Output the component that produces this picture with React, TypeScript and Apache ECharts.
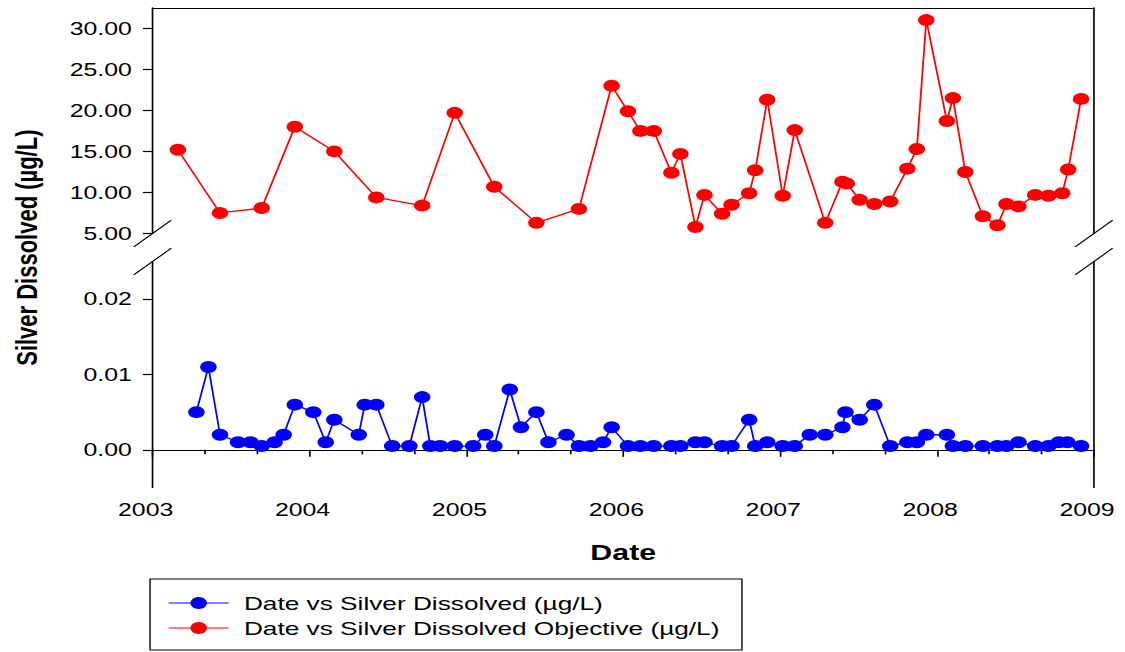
import React, { useEffect, useRef } from "react";
import * as echarts from "echarts";

// The reference picture is horizontally stretched; the chart is drawn at a
// narrower width and stretched back with a CSS transform.
const CHART_W = 815;
const CHART_H = 652;
const SCALE_X = 1125 / CHART_W;

const FONT = "'Liberation Sans', Arial, Helvetica, sans-serif";

const objectiveName = "Date vs Silver Dissolved Objective (µg/L)";
const dissolvedName = "Date vs Silver Dissolved (µg/L)";

const objectiveDates = [
  "2003-03-01", "2003-06-07", "2003-09-12", "2003-11-28", "2004-02-28", "2004-06-05",
  "2004-09-20", "2004-12-05", "2005-03-07", "2005-06-13", "2005-09-20", "2005-12-05",
  "2006-01-12", "2006-02-10", "2006-03-13", "2006-04-23", "2006-05-14", "2006-06-18",
  "2006-07-09", "2006-08-19", "2006-09-10", "2006-10-21", "2006-11-04", "2006-12-02",
  "2007-01-07", "2007-02-04", "2007-04-16", "2007-05-26", "2007-06-05", "2007-07-05",
  "2007-08-08", "2007-09-14", "2007-10-24", "2007-11-15", "2007-12-07", "2008-01-24",
  "2008-02-07", "2008-03-07", "2008-04-17", "2008-05-21", "2008-06-11", "2008-07-09",
  "2008-08-17", "2008-09-17", "2008-10-19", "2008-11-02", "2008-12-02",
];
const objectiveValues = [
  15.2, 7.5, 8.1, 18.0, 15.0, 9.4,
  8.4, 19.7, 10.7, 6.3, 8.0, 23.0,
  19.9, 17.5, 17.5, 12.4, 14.7, 5.8,
  9.7, 7.4, 8.5, 9.9, 12.7, 21.3,
  9.6, 17.6, 6.3, 11.3, 11.1, 9.1,
  8.6, 8.9, 12.9, 15.3, 31.0, 18.7,
  21.5, 12.5, 7.1, 6.0, 8.6, 8.3,
  9.7, 9.6, 9.9, 12.8, 21.4,
];

const dissolvedDates = [
  "2003-04-13", "2003-05-11", "2003-06-07", "2003-07-19", "2003-08-17", "2003-09-12",
  "2003-10-12", "2003-11-02", "2003-11-28", "2004-01-10", "2004-02-08", "2004-02-28",
  "2004-04-25", "2004-05-09", "2004-06-05", "2004-07-12", "2004-08-21", "2004-09-20",
  "2004-10-09", "2004-11-01", "2004-12-05", "2005-01-17", "2005-02-14", "2005-03-07",
  "2005-04-12", "2005-05-08", "2005-06-13", "2005-07-11", "2005-08-22", "2005-09-20",
  "2005-10-17", "2005-11-15", "2005-12-05", "2006-01-12", "2006-02-10", "2006-03-13",
  "2006-04-23", "2006-05-14", "2006-06-18", "2006-07-09", "2006-08-19", "2006-09-10",
  "2006-10-21", "2006-11-04", "2006-12-02", "2007-01-07", "2007-02-04", "2007-03-11",
  "2007-04-16", "2007-05-26", "2007-06-02", "2007-07-05", "2007-08-08", "2007-09-14",
  "2007-10-24", "2007-11-15", "2007-12-07", "2008-01-24", "2008-02-07", "2008-03-07",
  "2008-04-17", "2008-05-21", "2008-06-11", "2008-07-09", "2008-08-17", "2008-09-17",
  "2008-10-11", "2008-10-31", "2008-12-02",
];
const dissolvedValues = [
  0.005, 0.011, 0.002, 0.001, 0.001, 0.0005,
  0.001, 0.002, 0.006, 0.005, 0.001, 0.004,
  0.002, 0.006, 0.006, 0.0005, 0.0005, 0.007,
  0.0005, 0.0005, 0.0005, 0.0005, 0.002, 0.0005,
  0.008, 0.003, 0.005, 0.001, 0.002, 0.0005,
  0.0005, 0.001, 0.003, 0.0005, 0.0005, 0.0005,
  0.0005, 0.0005, 0.001, 0.001, 0.0005, 0.0005,
  0.004, 0.0005, 0.001, 0.0005, 0.0005, 0.002,
  0.002, 0.003, 0.005, 0.004, 0.006, 0.0005,
  0.001, 0.001, 0.002, 0.002, 0.0005, 0.0005,
  0.0005, 0.0005, 0.0005, 0.001, 0.0005, 0.0005,
  0.001, 0.001, 0.0005,
];

const yearRange = [2003, 2009];
const upperTicks = [5, 10, 15, 20, 25, 30];
const upperRange = [5, 32.5];
const lowerTicks = [0, 0.01, 0.02];
const lowerRange = [-0.005, 0.025];

function toYear(s: string): number {
  const [y, m, d] = s.split("-").map(Number);
  const t = Date.UTC(y, m - 1, d);
  const a = Date.UTC(y, 0, 1);
  const b = Date.UTC(y + 1, 0, 1);
  return y + (t - a) / (b - a);
}

const GRID_LEFT = 110.5;
const GRID_RIGHT = 22.5;
const UPPER_TOP = 7.8;
const UPPER_H = 225.7;
const LOWER_TOP = 261.5;
const LOWER_H = 226;

export default function App() {
  const ref = useRef<HTMLDivElement>(null);

  useEffect(() => {
    if (!ref.current) return;
    const chart = echarts.init(ref.current, undefined, { renderer: "svg" });

    const axisLine = { show: true, lineStyle: { color: "#000", width: 1.2 } };
    const labelStyle = { color: "#000", fontFamily: FONT, fontSize: 18 };

    const leftX = GRID_LEFT;
    const rightX = CHART_W - GRID_RIGHT;
    const breakTop = UPPER_TOP + UPPER_H;
    const breakBottom = LOWER_TOP;
    const slash = (cx: number, cy: number) => ({
      type: "line",
      shape: { x1: cx - 13.6, y1: cy + 13.3, x2: cx + 13.6, y2: cy - 13.3 },
      style: { stroke: "#000", lineWidth: 1 },
      silent: true,
    });

    chart.setOption({
      animation: false,
      backgroundColor: "#fff",
      grid: [
        { left: GRID_LEFT, right: GRID_RIGHT, top: UPPER_TOP, height: UPPER_H },
        { left: GRID_LEFT, right: GRID_RIGHT, top: LOWER_TOP, height: LOWER_H },
      ],
      xAxis: [
        {
          type: "value",
          gridIndex: 0,
          position: "top",
          min: yearRange[0],
          max: yearRange[1],
          axisLine,
          axisTick: { show: false },
          axisLabel: { show: false },
          splitLine: { show: false },
        },
        {
          type: "value",
          gridIndex: 1,
          position: "bottom",
          min: yearRange[0],
          max: yearRange[1],
          interval: 1,
          axisLine,
          axisTick: { show: true, length: 7, lineStyle: { color: "#000", width: 1.2 } },
          minorTick: { show: true, splitNumber: 3, length: 4.5, lineStyle: { color: "#000", width: 1.2 } },
          axisLabel: {
            ...labelStyle,
            margin: 13,
            padding: [0, 10, 0, 0],
            formatter: (v: number) => String(Math.round(v)),
          },
          splitLine: { show: false },
          name: "Date",
          nameLocation: "middle",
          nameGap: 54,
          nameTextStyle: { color: "#000", fontFamily: FONT, fontSize: 22, fontWeight: "bold" },
        },
      ],
      yAxis: [
        {
          type: "value",
          gridIndex: 0,
          position: "left",
          min: upperRange[0],
          max: upperRange[1],
          axisLine,
          axisTick: { show: true, length: 7, customValues: upperTicks, lineStyle: { color: "#000", width: 1.2 } },
          axisLabel: {
            ...labelStyle,
            margin: 15,
            customValues: upperTicks,
            formatter: (v: number) => v.toFixed(2),
          },
          splitLine: { show: false },
        },
        {
          type: "value",
          gridIndex: 0,
          position: "right",
          min: upperRange[0],
          max: upperRange[1],
          axisLine,
          axisTick: { show: false },
          axisLabel: { show: false },
          splitLine: { show: false },
        },
        {
          type: "value",
          gridIndex: 1,
          position: "left",
          min: lowerRange[0],
          max: lowerRange[1],
          axisLine,
          axisTick: { show: true, length: 7, customValues: lowerTicks, lineStyle: { color: "#000", width: 1.2 } },
          axisLabel: {
            ...labelStyle,
            margin: 15,
            customValues: lowerTicks,
            formatter: (v: number) => v.toFixed(2),
          },
          splitLine: { show: false },
        },
        {
          type: "value",
          gridIndex: 1,
          position: "right",
          min: lowerRange[0],
          max: lowerRange[1],
          axisLine,
          axisTick: { show: false },
          axisLabel: { show: false },
          splitLine: { show: false },
        },
      ],
      legend: {
        orient: "vertical",
        left: 121.7,
        top: 593.5,
        width: 420,
        height: 58,
        padding: 0,
        itemWidth: 43.5,
        itemHeight: 15,
        itemGap: 6,
        data: [dissolvedName, objectiveName],
        textStyle: { color: "#000", fontFamily: FONT, fontSize: 19, padding: [0, 0, 0, 6] },
        lineStyle: { width: 1 },
      },
      graphic: [
        {
          type: "rect",
          shape: { x: 108.7, y: 579, width: 428.8, height: 71 },
          style: { fill: "none", stroke: "#000", lineWidth: 1 },
          silent: true,
        },
        {
          type: "text",
          x: 19.6,
          y: (UPPER_TOP + LOWER_TOP + LOWER_H) / 2,
          rotation: Math.PI / 2,
          style: {
            text: "Silver Dissolved (µg/L)",
            fontFamily: FONT,
            fontSize: 22,
            fontWeight: "bold",
            fill: "#000",
            align: "center",
            verticalAlign: "middle",
          },
          silent: true,
        },
        slash(leftX, breakTop),
        slash(leftX, breakBottom),
        slash(rightX, breakTop),
        slash(rightX, breakBottom),
      ],
      series: [
        {
          name: dissolvedName,
          type: "line",
          xAxisIndex: 1,
          yAxisIndex: 2,
          data: dissolvedDates.map((d, i) => [toYear(d), dissolvedValues[i]]),
          symbol: "circle",
          symbolSize: 12,
          lineStyle: { color: "#0000ff", width: 1.3 },
          itemStyle: { color: "#0000ff" },
          z: 3,
        },
        {
          name: objectiveName,
          type: "line",
          xAxisIndex: 0,
          yAxisIndex: 0,
          data: objectiveDates.map((d, i) => [toYear(d), objectiveValues[i]]),
          symbol: "circle",
          symbolSize: 12,
          lineStyle: { color: "#ff0000", width: 1.3 },
          itemStyle: { color: "#ff0000" },
          z: 3,
        },
      ],
    });

    return () => chart.dispose();
  }, []);

  return (
    <div
      style={{
        position: "fixed",
        left: 0,
        top: 0,
        width: 1125,
        height: CHART_H,
        overflow: "hidden",
        background: "#fff",
      }}
    >
      <div
        ref={ref}
        style={{
          width: CHART_W,
          height: CHART_H,
          transform: `scaleX(${SCALE_X})`,
          transformOrigin: "0 0",
        }}
      />
    </div>
  );
}
